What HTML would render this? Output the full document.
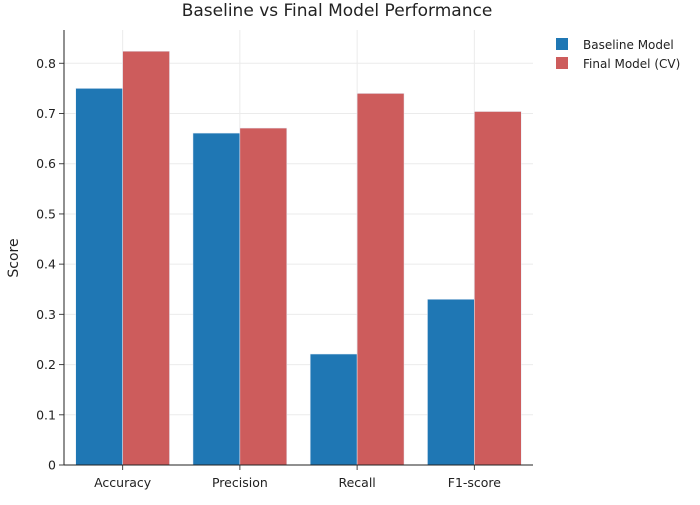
<!DOCTYPE html>
<html><head><meta charset="utf-8"><style>
body{margin:0;background:#fff;font-family:"Liberation Sans","DejaVu Sans",sans-serif}
text{font-family:"DejaVu Sans","Liberation Sans",sans-serif;fill:#2a3f5f}
</style></head><body>
<svg id="chart" width="700" height="500" xmlns="http://www.w3.org/2000/svg">
<rect width="700" height="500" fill="#fff"/>
<g id="grid"></g><g id="bars"></g><g id="axes"></g>
<text x="337" y="16" text-anchor="middle" font-size="17" fill="#222" style="fill:#222">Baseline vs Final Model Performance</text>
<text transform="translate(18,258) rotate(-90)" text-anchor="middle" font-size="14" style="fill:#222">Score</text>
<g>
<g><rect x="556" y="38" width="12" height="12" fill="#1f77b4"/><text x="583" y="49" font-size="12" style="fill:#222">Baseline Model</text></g>
<g><rect x="556" y="57" width="12" height="12" fill="#cd5c5c"/><text x="583" y="68" font-size="12" style="fill:#222">Final Model (CV)</text></g>
</g>
</svg>
<script>
const categories=["Accuracy","Precision","Recall","F1-score"];
const baseline=[0.75,0.661,0.221,0.33];
const finalCV=[0.824,0.671,0.74,0.704];
const yTicks=[0,0.1,0.2,0.3,0.4,0.5,0.6,0.7,0.8];
const L=64,R=533,T=30,B=465,yMax=0.8/((B-63.3)/(B-T));
const NS="http://www.w3.org/2000/svg";
const y=v=>B-v/yMax*(B-T);
const bw=(R-L)/categories.length;
const xc=i=>L+bw*(i+0.5);
function mk(tag,attrs,parent){const e=document.createElementNS(NS,tag);for(const k in attrs)e.setAttribute(k,attrs[k]);document.getElementById(parent).appendChild(e);return e;}
yTicks.forEach(t=>{
 if(t>0){const g=mk('line',{x1:L,x2:R,y1:y(t),y2:y(t),stroke:'#ebebeb'},'grid');
 
 }
 mk('line',{x1:L-5,x2:L,y1:y(t),y2:y(t),stroke:'#444'},'axes');
 const tx=mk('text',{x:L-8,y:y(t)+4.5,'text-anchor':'end','font-size':12.5,style:'fill:#222'},'axes');tx.textContent=String(t);
 
 
});
categories.forEach((c,i)=>{
 const g=mk('line',{x1:xc(i),x2:xc(i),y1:T,y2:B,stroke:'#ebebeb'},'grid');
 
 
 mk('line',{x1:xc(i),x2:xc(i),y1:B,y2:B+5,stroke:'#444'},'axes');
 const tx=mk('text',{x:xc(i),y:B+22,'text-anchor':'middle','font-size':12.5,style:'fill:#222'},'axes');tx.textContent=c;
 
 
 const w=bw*0.4;
 const b1=mk('rect',{x:xc(i)-w,y:y(baseline[i]),width:w,height:B-y(baseline[i]),fill:'#1f77b4',stroke:'#e5ecf6','stroke-width':0.5},'bars');
 
 
 const b2=mk('rect',{x:xc(i),y:y(finalCV[i]),width:w,height:B-y(finalCV[i]),fill:'#cd5c5c',stroke:'#e5ecf6','stroke-width':0.5},'bars');
 
 
});
const ya=mk('line',{x1:L,x2:L,y1:T,y2:B,stroke:'#222','stroke-width':1},'axes');


const xa=mk('line',{x1:L,x2:R,y1:B,y2:B,stroke:'#222','stroke-width':1},'axes');


</script>
</body></html>
